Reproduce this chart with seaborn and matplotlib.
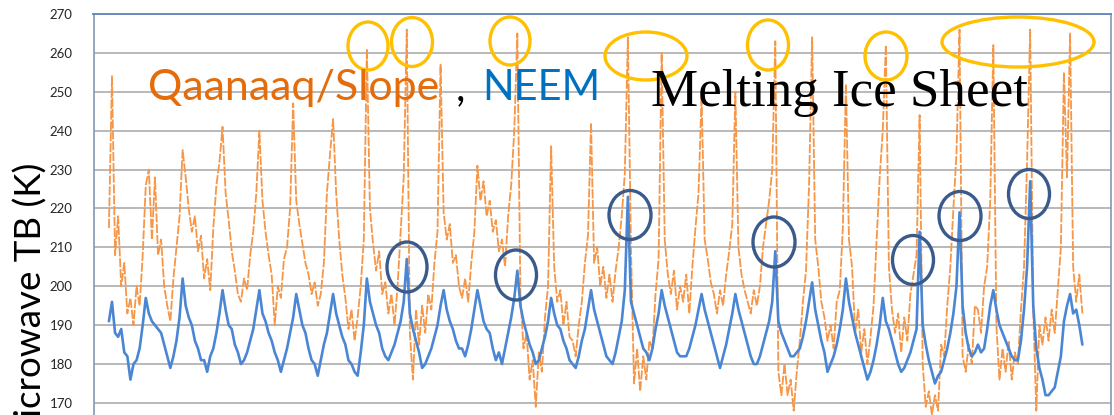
import numpy as np
import pandas as pd
import matplotlib
matplotlib.use("Agg")
import matplotlib.pyplot as plt
from matplotlib.patches import Ellipse
import seaborn as sns

# monthly brightness temperatures (K), from Jun 1987, one row per year
start_year = 1987
first_month = 5  # June

neem_tb = [
    191, 196, 188, 187, 189, 183, 182,
    176, 180, 181, 184, 190, 197, 193, 191, 190, 189, 188, 185,
    182, 179, 182, 186, 192, 202, 195, 192, 190, 186, 184, 181,
    181, 178, 182, 184, 188, 193, 199, 194, 190, 189, 185, 183,
    180, 181, 183, 186, 189, 194, 199, 193, 191, 188, 186, 183,
    181, 178, 181, 184, 188, 192, 198, 194, 190, 188, 184, 181,
    180, 177, 181, 185, 188, 193, 198, 193, 190, 187, 185, 181,
    180, 178, 177, 183, 190, 202, 196, 193, 190, 188, 184, 182,
    181, 183, 185, 188, 191, 196, 207, 193, 189, 186, 183, 179,
    180, 182, 184, 187, 190, 195, 199, 194, 191, 189, 186, 184,
    184, 182, 185, 189, 194, 199, 195, 191, 189, 188, 184, 181,
    183, 180, 184, 188, 192, 197, 204, 195, 191, 188, 185, 183,
    180, 181, 184, 187, 191, 197, 193, 190, 189, 186, 184, 181,
    180, 179, 182, 186, 189, 194, 199, 194, 191, 188, 185, 182,
    181, 180, 183, 187, 191, 199, 223, 196, 193, 190, 187, 184,
    183, 181, 184, 189, 193, 199, 195, 192, 189, 186, 183, 182,
    182, 182, 184, 187, 190, 194, 198, 194, 191, 188, 185, 182,
    179, 182, 185, 189, 193, 198, 194, 191, 188, 185, 182, 180,
    180, 182, 185, 188, 191, 196, 209, 191, 188, 186, 184, 182,
    182, 183, 184, 187, 191, 196, 201, 194, 190, 186, 183, 178,
    180, 182, 185, 189, 194, 202, 196, 192, 188, 185, 182, 179,
    176, 178, 181, 185, 190, 197, 191, 189, 186, 183, 180, 178,
    179, 181, 183, 186, 189, 214, 190, 185, 181, 178, 175, 177,
    178, 181, 184, 188, 193, 200, 219, 195, 188, 184, 182, 183,
    185, 183, 184, 189, 195, 199, 194, 190, 188, 186, 184, 182,
    181, 181, 186, 194, 205, 227, 195, 184, 179, 176, 172, 172,
    173, 174, 178, 182, 191, 195, 198, 193, 194, 190, 185,
]

qaanaaq_tb = [
    215, 254, 208, 218, 200, 206, 193,
    197, 190, 200, 195, 208, 226, 230, 212, 228, 208, 212, 200,
    195, 191, 202, 210, 218, 235, 228, 220, 214, 218, 209, 213,
    202, 207, 199, 215, 226, 232, 241, 224, 217, 209, 204, 198,
    196, 202, 199, 208, 214, 224, 240, 222, 214, 208, 203, 190,
    200, 197, 207, 210, 220, 247, 222, 216, 211, 206, 203, 198,
    201, 195, 198, 206, 224, 234, 243, 224, 212, 203, 197, 189,
    194, 186, 192, 200, 212, 261, 220, 211, 204, 209, 198, 201,
    193, 198, 190, 200, 214, 228, 266, 188, 176, 194, 185, 195,
    188, 198, 194, 206, 214, 257, 219, 212, 216, 206, 208, 200,
    197, 202, 196, 206, 214, 231, 222, 227, 218, 222, 214, 217,
    209, 212, 205, 218, 226, 240, 265, 198, 184, 188, 176, 181,
    169, 183, 178, 192, 200, 236, 205, 196, 199, 190, 196, 187,
    186, 182, 190, 196, 206, 213, 242, 206, 210, 200, 205, 197,
    203, 196, 204, 210, 218, 229, 264, 210, 175, 184, 173, 182,
    176, 186, 184, 198, 207, 260, 212, 203, 198, 204, 194, 200,
    196, 203, 193, 205, 215, 224, 249, 212, 207, 201, 198, 193,
    199, 195, 203, 209, 216, 250, 210, 203, 199, 196, 193, 199,
    195, 200, 210, 216, 222, 230, 263, 178, 172, 180, 172, 176,
    168, 178, 186, 196, 204, 226, 264, 212, 205, 196, 192, 186,
    190, 184, 196, 199, 215, 252, 212, 205, 188, 194, 183, 189,
    180, 187, 195, 212, 228, 240, 262, 205, 194, 188, 193, 183,
    192, 186, 198, 203, 208, 244, 180, 169, 173, 167, 172, 168,
    185, 182, 195, 205, 220, 234, 266, 182, 178, 185, 180, 195,
    194, 188, 200, 205, 222, 262, 190, 176, 184, 178, 186, 176,
    183, 180, 194, 205, 232, 266, 194, 168, 190, 185, 192, 186,
    194, 188, 199, 210, 255, 228, 265, 205, 196, 203, 193,
]

y_ticks = list(range(170, 271, 10))

n = len(neem_tb)
months = np.arange(first_month, first_month + n)
df = pd.DataFrame({
    "year": start_year + (months + 0.5) / 12,
    "neem": neem_tb,
    "qaanaaq": qaanaaq_tb,
})

W, H = 1114, 415
sns.set_style("white")
plt.rcParams["font.family"] = ["Lato", "DejaVu Sans"]

fig = plt.figure(figsize=(W / 100, H / 100), dpi=100)
ax = fig.add_axes([93.5 / W, 0, (1111 - 93.5) / W, 401 / H])

sns.lineplot(data=df, x="year", y="qaanaaq", ax=ax, estimator=None,
             color="#F79646", lw=1.3, linestyle=(0, (5, 1.0)))
sns.lineplot(data=df, x="year", y="neem", ax=ax, estimator=None,
             color="#4A86D4", lw=1.9)

ax.set_xlim(start_year + 0.040, start_year + 27.652)
ax.set_ylim(166.9, 270)
ax.set_yticks(y_ticks)
ax.set_xticks([])
ax.set_xlabel("")
ax.set_ylabel("")
ax.yaxis.grid(True, color="#A6A6A6", lw=1.1)
ax.set_axisbelow(True)
ax.tick_params(axis="y", length=3, pad=12, labelsize=9.5, color="#A6A6A6", labelcolor="#262626")
for s in ["left", "right"]:
    ax.spines[s].set_color("#8497B0")
    ax.spines[s].set_linewidth(1.2)
ax.spines["top"].set_color("#5F84BC")
ax.spines["top"].set_linewidth(1.3)
ax.spines["bottom"].set_visible(False)

# axis title, cut off at the bottom edge as in the source image
fig.text(31 / W, 1 - 163 / H, "Microwave TB (K)", rotation=90, ha="center", va="top",
         fontsize=26.5, color="#000000")

# titles inside the plot
fig.text(148 / W, 1 - 100 / H, "Qaanaaq/Slope", fontsize=31, color="#E46C0A", va="baseline")
fig.text(456 / W, 1 - 100 / H, ",", fontsize=30, color="#000000", va="baseline")
fig.text(482 / W, 1 - 100 / H, "NEEM", fontsize=30, color="#0070C0", va="baseline")
fig.text(651 / W, 1 - 106 / H, "Melting Ice Sheet", fontsize=38.2, color="#000000",
         va="baseline", family=["Liberation Serif", "DejaVu Serif"])

# highlight marks (pixel centre x, y, width, height)
gold_marks = [(368, 46, 40, 48), (412, 42, 41, 49), (510, 41, 40, 48), (646, 56, 82, 48),
              (768, 45, 41, 50), (886, 56, 42, 48), (1018, 42, 152, 50)]
blue_marks = [(407, 267, 40, 50), (516, 275, 41, 50), (630, 215, 42, 49), (774, 242, 42, 50),
              (913, 260, 41, 49), (960, 216, 42, 49), (1029, 194, 41, 49)]
for marks, col in [(gold_marks, "#FFC000"), (blue_marks, "#3A5A8C")]:
    for cx, cy, w, h in marks:
        fig.add_artist(Ellipse((cx / W, 1 - cy / H), w / W, h / H, transform=fig.transFigure,
                               fill=False, ec=col, lw=2.4, clip_on=False))

fig.savefig("out.png", dpi=100)
